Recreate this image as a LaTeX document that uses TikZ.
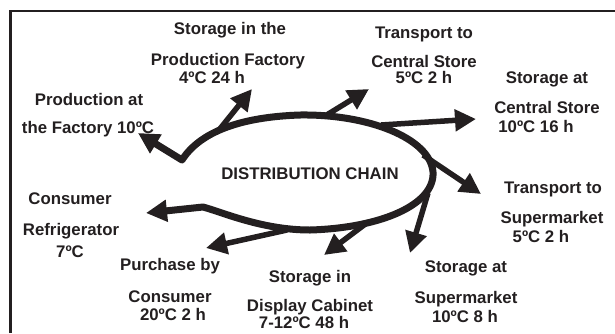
\documentclass[tikz,border=0pt]{standalone}
\usepackage{fontspec}
\setmainfont{Liberation Sans}
\usetikzlibrary{arrows.meta}
\definecolor{ink}{RGB}{35,31,32}
\begin{document}
\begin{tikzpicture}[x=1pt,y=-1pt,
  lbl/.style={anchor=base,inner sep=0pt,text=ink,font=\bfseries\fontsize{16.8}{17}\selectfont},
  head/.tip={Triangle[length=21pt,width=21pt]},
  chain/.style={draw=ink,line width=7pt,line join=round,head-head},
  branch/.style={draw=ink,line width=5.5pt,-head}]
\useasboundingbox (0,0) rectangle (615,333);

% frame (top and left edges)
\draw[ink,line width=2.6pt] (10.7,333) -- (10.7,11) -- (615,11);

% points on the chain loop
\coordinate (tProd)   at (138,133);
\coordinate (v0)      at (182,160);
\coordinate (top)     at (300,115);
\coordinate (right)   at (433,172);
\coordinate (bot)     at (310,230);
\coordinate (v1)      at (203,207);
\coordinate (tFridge) at (146,213);

% branch start points and tips
\coordinate (s1) at (219,130); \coordinate (t1) at (252,89);
\coordinate (s2) at (325,116); \coordinate (t2) at (369,89);
\coordinate (s3) at (381,125); \coordinate (t3) at (476,119);
\coordinate (s4) at (423,155); \coordinate (t4) at (481,194);
\coordinate (s5) at (428,193); \coordinate (t5) at (410,253);
\coordinate (s6) at (368,222); \coordinate (t6) at (324,255);
\coordinate (s7) at (287,230); \coordinate (t7) at (206,248);

% the distribution chain loop
\draw[chain] (tProd) -- (v0)
  .. controls (200,132) and (240,117) .. (top)
  .. controls (368,114) and (430,138) .. (right)
  .. controls (435,205) and (380,228) .. (bot)
  .. controls (262,230) and (222,212) .. (v1)
  -- (tFridge);

% branches
\draw[branch] (s1) -- (t1);
\draw[branch] (s2) -- (t2);
\draw[branch] (s3) -- (t3);
\draw[branch] (s4) -- (t4);
\draw[branch] (s5) -- (t5);
\draw[branch] (s6) -- (t6);
\draw[branch] (s7) -- (t7);

% centre label
\node[lbl] (chainlbl) at (310,179) {DISTRIBUTION CHAIN};

% labels
\node[lbl] (pa1) at (89,105) {Production at};
\node[lbl] (pa2) at (88,133) {the Factory 10ºC};

\node[lbl] (sp1) at (230,34) {Storage in the};
\node[lbl] (sp2) at (228,65) {Production Factory};
\node[lbl] (sp3) at (212,83) {4ºC 24 h};

\node[lbl] (tc1) at (424,38) {Transport to};
\node[lbl] (tc2) at (424,67) {Central Store};
\node[lbl] (tc3) at (424,83) {5ºC 2 h};

\node[lbl] (sc1) at (547,83) {Storage at};
\node[lbl] (sc2) at (547,113) {Central Store};
\node[lbl] (sc3) at (536,132) {10ºC 16 h};

\node[lbl] (ts1) at (553,193) {Transport to};
\node[lbl] (ts2) at (552,223) {Supermarket};
\node[lbl] (ts3) at (541,242) {5ºC 2 h};

\node[lbl] (ss1) at (466,272) {Storage at};
\node[lbl] (ss2) at (466,303) {Supermarket};
\node[lbl] (ss3) at (465,322) {10ºC 8 h};

\node[lbl] (sd1) at (310,282) {Storage in};
\node[lbl] (sd2) at (310,311) {Display Cabinet};
\node[lbl] (sd3) at (304,328.5) {7-12ºC 48 h};

\node[lbl] (pc1) at (170,270) {Purchase by};
\node[lbl] (pc2) at (170,302) {Consumer};
\node[lbl] (pc3) at (173,320) {20ºC 2 h};

\node[lbl] (cr1) at (70,204) {Consumer};
\node[lbl] (cr2) at (71,235) {Refrigerator};
\node[lbl] (cr3) at (70,257) {7ºC};
\end{tikzpicture}
\end{document}
